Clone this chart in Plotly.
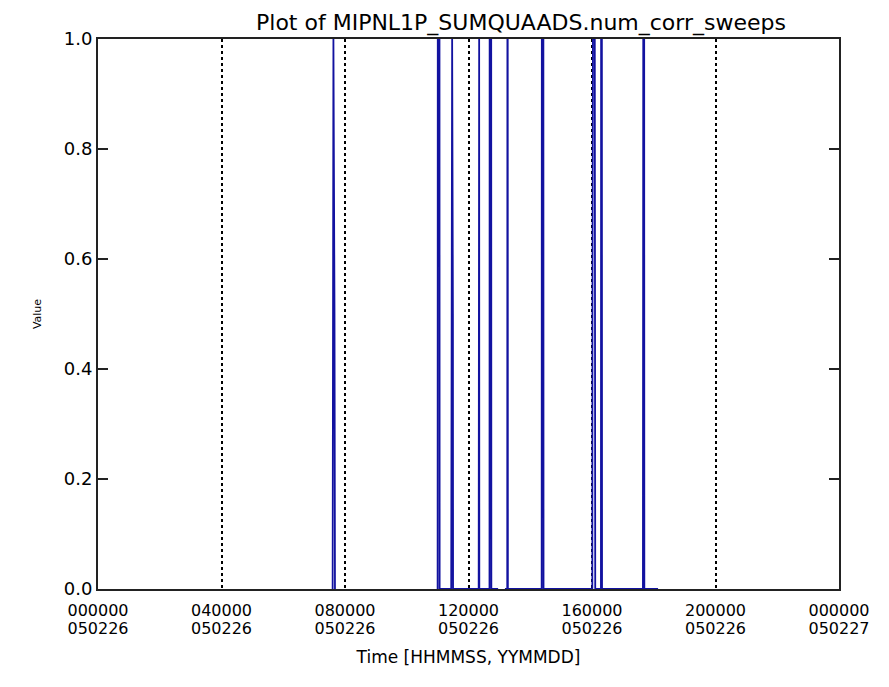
import plotly.graph_objects as go

# Time in hours since 000000 050226, value of num_corr_sweeps
time_h = [7.600, 7.610, 7.625, 7.660, 7.675, None,
          11.000, 11.005, 11.060, 11.065,
          11.440, 11.445, 11.460, 11.470, 11.495, 11.500,
          12.330, 12.335, 12.345, 12.350,
          12.680, 12.685, 12.735, 12.740,
          12.960, None,
          13.180, 13.255, 13.260, 13.270, 13.275,
          14.370, 14.375, 14.425, 14.430,
          16.010, 16.015, 16.030, 16.090, 16.100, 16.105,
          16.290, 16.295, 16.320, 16.325,
          17.650, 17.655, 17.660, 17.690, 17.695,
          18.140]
values = [0, 1, 1, 0.5, 0, None,
          0, 1, 1, 0,
          0, 0.5, 1, 1, 0.5, 0,
          0, 1, 1, 0,
          0, 1, 1, 0,
          0, None,
          0, 0, 1, 1, 0,
          0, 1, 1, 0,
          0, 0.5, 1, 1, 0.5, 0,
          0, 1, 1, 0,
          0, 0.5, 1, 1, 0,
          0]

x_tick_vals = [0, 4, 8, 12, 16, 20, 24]
x_tick_time = ["000000", "040000", "080000", "120000", "160000", "200000", "000000"]
x_tick_date = ["050226", "050226", "050226", "050226", "050226", "050226", "050227"]
y_tick_vals = [0.0, 0.2, 0.4, 0.6, 0.8, 1.0]
y_tick_text = ["0.0", "0.2", "0.4", "0.6", "0.8", "1.0"]

font = "DejaVu Sans"
W, H = 889, 687

fig = go.Figure()
fig.add_trace(go.Scatter(
    x=time_h, y=values, mode="lines",
    line=dict(color="#1212a0", width=1.8),
    connectgaps=False, showlegend=False, hoverinfo="skip"))
# same series on the overlaid date axis so that its labels are drawn
fig.add_trace(go.Scatter(
    x=time_h, y=values, mode="lines", xaxis="x2", opacity=0,
    line=dict(color="#1212a0", width=1.8),
    connectgaps=False, showlegend=False, hoverinfo="skip"))

fig.update_layout(
    width=W, height=H,
    paper_bgcolor="white", plot_bgcolor="white",
    margin=dict(l=98, r=50, t=39, b=98, autoexpand=False),
    title=dict(text="Plot of MIPNL1P_SUMQUAADS.num_corr_sweeps",
               xref="container", x=521 / W, xanchor="center",
               yref="container", y=1 - 22 / H, yanchor="middle",
               font=dict(family=font, size=22, color="black")),
    font=dict(family=font, color="black"),
    xaxis=dict(
        range=[0, 24], tickmode="array", tickvals=x_tick_vals, ticktext=x_tick_time,
        showgrid=True, gridcolor="black", gridwidth=1.5, griddash="3px,3px",
        ticks="", showline=True, linecolor="#222", linewidth=2, mirror=True,
        zeroline=False, automargin=False, ticklabelstandoff=6,
        tickfont=dict(family=font, size=16, color="black"),
        title=dict(text="Time [HHMMSS, YYMMDD]", standoff=32,
                   font=dict(family=font, size=17, color="black"))),
    xaxis2=dict(
        range=[0, 24], overlaying="x", side="bottom", anchor="y",
        tickmode="array", tickvals=x_tick_vals, ticktext=x_tick_date,
        showgrid=False, showline=False, ticks="", zeroline=False,
        automargin=False, ticklabelstandoff=28,
        tickfont=dict(family=font, size=16, color="black")),
    yaxis=dict(
        range=[0, 1], tickmode="array", tickvals=y_tick_vals, ticktext=y_tick_text,
        showgrid=False, zeroline=False, ticks="inside", ticklen=10, tickwidth=1.5,
        tickcolor="#222", showline=True, linecolor="#222", linewidth=2,
        mirror="ticks", automargin=False,
        tickfont=dict(family=font, size=18, color="black"),
        title=dict(text="Value", standoff=20,
                   font=dict(family=font, size=11, color="black"))),
)

fig.write_html("out.html", config={"displayModeBar": False},
               post_script="document.body.style.margin='0';")
